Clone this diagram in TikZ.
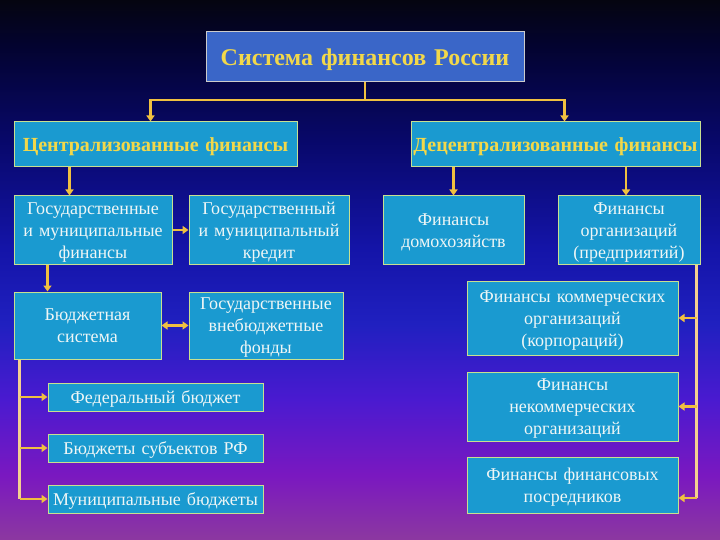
\documentclass[tikz,border=0pt]{standalone}
\usepackage{fontspec}
\setmainfont{Liberation Serif}
\usepackage{xcolor}
\usepackage{tikz}
\usetikzlibrary{arrows.meta, positioning, calc}

\definecolor{bgtop}{HTML}{050510}
\definecolor{bgnavy}{HTML}{03032E}
\definecolor{bgdark}{HTML}{08086A}
\definecolor{bgblue}{HTML}{1414A8}
\definecolor{bgroyal}{HTML}{2020C0}
\definecolor{bgviolet}{HTML}{4A1AD0}
\definecolor{bgpurple}{HTML}{7A18C0}
\definecolor{bgbot}{HTML}{8C38A0}
\definecolor{boxfill}{HTML}{1A9AD0}
\definecolor{titlefill}{HTML}{3A66C8}
\definecolor{boxline}{HTML}{C8E090}
\definecolor{linkcol}{HTML}{F0C040}
\definecolor{spinecol}{HTML}{F4D090}
\definecolor{headtext}{HTML}{F2D84A}
\definecolor{bodytext}{HTML}{EEF6F6}

\pgfdeclareverticalshading{bgshade}{100bp}{color(0bp)=(bgbot); color(25bp)=(bgbot);
  color(31bp)=(bgpurple); color(38bp)=(bgviolet); color(45bp)=(bgroyal);
  color(52bp)=(bgblue); color(62bp)=(bgdark); color(71bp)=(bgnavy);
  color(75bp)=(bgtop); color(100bp)=(bgtop)}

\begin{document}
\begin{tikzpicture}[
    x=1pt, y=-1pt,
    box/.style={rectangle, draw=boxline, line width=1pt, fill=boxfill, inner xsep=0pt, inner ysep=1pt, align=center,
                font=\fontsize{18}{22}\selectfont, text=bodytext,
                execute at begin node={\rule{0pt}{0.89em}},
                execute at end node={\rule[-0.22em]{0pt}{0.22em}}},
    head/.style={box, font=\fontsize{20}{23}\selectfont\bfseries, text=headtext},
    top/.style={head, fill=titlefill, draw=black!20, font=\fontsize{24}{27}\selectfont\bfseries},
    link/.style={draw=linkcol, line width=2.5pt},
    arrow/.style={link, -{Triangle[width=8pt,length=6pt]}},
    both/.style={link, {Triangle[width=8pt,length=6pt]}-{Triangle[width=8pt,length=6pt]}}
]

% Background
\shade[shading=bgshade] (0,0) rectangle (720,540);

% Level 1: the whole system
\node[top, text width=318pt, minimum height=50] (system) at (365, 57) {Система финансов России};

% Level 2: two branches
\node[head, text width=283pt, minimum height=45] (central) at (155.5, 144.5) {Централизованные финансы};
\node[head, text width=289pt, minimum height=45] (decentral) at (555.5, 144.5) {Децентрализованные финансы};

\coordinate (split) at (365, 100);
\draw[link] (system.south) -- (split);
\draw[arrow] (split) -| ([xshift=-5pt]central.north);
\draw[arrow] (split) -| ([xshift=9pt]decentral.north);

% Centralized side
\node[box, text width=158pt, minimum height=68] (gmf) at (93, 230) {Государственные\\и муниципальные\\финансы};
\node[box, text width=160pt, minimum height=68] (credit) at (269, 230) {Государственный\\и муниципальный\\кредит};
\node[box, text width=147pt, minimum height=67] (budget) at (87.5, 325.5) {Бюджетная\\система};
\node[box, text width=154pt, minimum height=67] (funds) at (266, 325.5) {Государственные\\внебюджетные\\фонды};

\draw[arrow] ([xshift=56pt]central.south west) -- ([xshift=56pt]gmf.north west);
\draw[arrow] (gmf.east) -- (credit.west);
\draw[arrow] ([xshift=34pt]gmf.south west) -- ([xshift=34pt]budget.north west);
\draw[both] (budget.east) -- (funds.west);

% Budget levels
\node[box, text width=215pt, minimum height=28] (federal) at (155.5, 397) {Федеральный бюджет};
\node[box, text width=215pt, minimum height=28] (regions) at (155.5, 448) {Бюджеты субъектов РФ};
\node[box, text width=215pt, minimum height=28] (municipal) at (155.5, 499) {Муниципальные бюджеты};

\coordinate (lspine) at ([xshift=6pt]budget.south west);
\draw[link, draw=spinecol] (lspine) -- (lspine |- municipal.west);
\foreach \b in {federal, regions, municipal}
  \draw[arrow] (lspine |- \b.west) -- (\b.west);

% Decentralized side
\node[box, text width=141pt, minimum height=68] (house) at (453.5, 230) {Финансы\\домохозяйств};
\node[box, text width=142pt, minimum height=68] (orgs) at (629, 230) {Финансы\\организаций\\(предприятий)};

\draw[arrow] (decentral.south -| house.north) -- (house.north);
\draw[arrow] ([xshift=-3pt]decentral.south -| orgs.north) -- ([xshift=-3pt]orgs.north);

\node[box, text width=211pt, minimum height=74] (comm) at (572.5, 318) {Финансы коммерческих\\организаций\\(корпораций)};
\node[box, text width=211pt, minimum height=69] (noncomm) at (572.5, 406.5) {Финансы\\некоммерческих\\организаций};
\node[box, text width=211pt, minimum height=56] (fininter) at (572.5, 485) {Финансы финансовых\\посредников};

\coordinate (rspine) at ([xshift=-4pt]orgs.south east);
\coordinate (rend) at ([yshift=-13pt]fininter.east);
\draw[link, draw=spinecol] (rspine) -- (rspine |- rend);
\draw[arrow] (rspine |- comm.east) -- (comm.east);
\draw[arrow] (rspine |- noncomm.east) -- (noncomm.east);
\draw[arrow] (rspine |- rend) -- (rend);

\end{tikzpicture}
\end{document}
